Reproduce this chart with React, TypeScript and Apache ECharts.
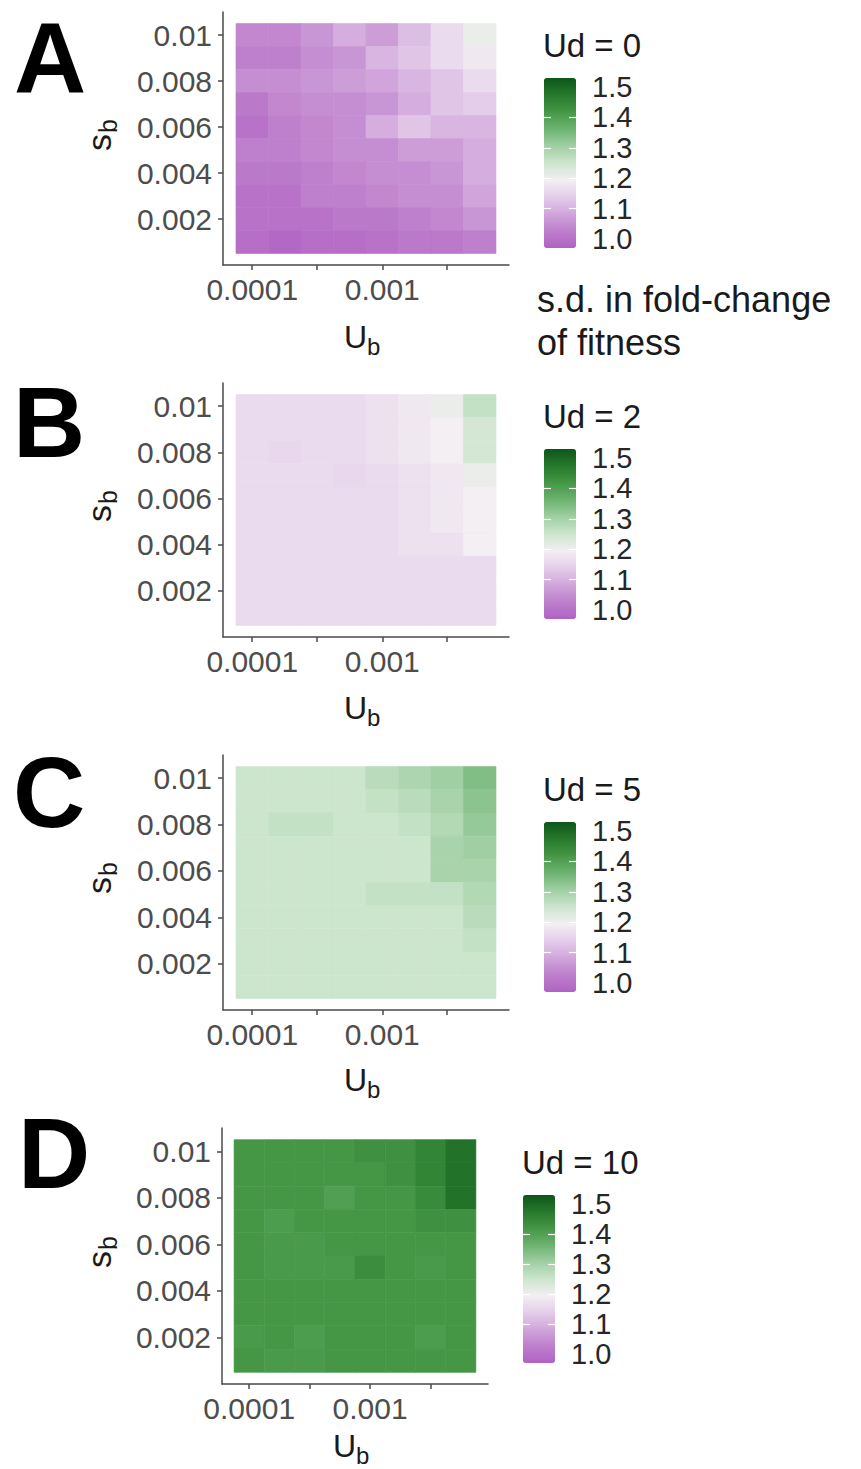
import React, { useEffect, useRef } from 'react';
import * as echarts from 'echarts';

// ---------- data ----------
const ubValues = [0.0001, 0.000178, 0.000316, 0.000562, 0.001, 0.00178, 0.00316, 0.00562];
// rows listed from top (sb = 0.010) to bottom (sb = 0.001)
const sbValues = [0.01, 0.009, 0.008, 0.007, 0.006, 0.005, 0.004, 0.003, 0.002, 0.001];
const xTickValues = [0.0001, 0.000316, 0.001, 0.00316];
const xTickLabels = ['0.0001', '0.001'];
const yTickLabels = ['0.002', '0.004', '0.006', '0.008', '0.01'];
const legendBreaks = [1.0, 1.1, 1.2, 1.3, 1.4, 1.5];
const panelLetters = ['A', 'B', 'C', 'D'];
const udValues = [0, 2, 5, 10];

const sdUd0 = [
  [1.06, 1.06, 1.08, 1.11, 1.09, 1.13, 1.17, 1.21],
  [1.05, 1.05, 1.07, 1.08, 1.12, 1.14, 1.17, 1.19],
  [1.07, 1.07, 1.08, 1.09, 1.1, 1.12, 1.14, 1.17],
  [1.04, 1.06, 1.07, 1.07, 1.08, 1.11, 1.14, 1.15],
  [1.03, 1.05, 1.06, 1.07, 1.11, 1.14, 1.12, 1.12],
  [1.05, 1.05, 1.06, 1.07, 1.07, 1.09, 1.09, 1.11],
  [1.04, 1.04, 1.05, 1.06, 1.07, 1.07, 1.08, 1.11],
  [1.03, 1.03, 1.05, 1.05, 1.06, 1.07, 1.07, 1.1],
  [1.03, 1.03, 1.03, 1.04, 1.04, 1.05, 1.06, 1.08],
  [1.02, 1.01, 1.02, 1.02, 1.03, 1.04, 1.04, 1.05],
];
const sdUd2 = [
  [1.17, 1.17, 1.17, 1.17, 1.18, 1.19, 1.21, 1.26],
  [1.17, 1.17, 1.17, 1.17, 1.18, 1.19, 1.2, 1.24],
  [1.17, 1.165, 1.17, 1.17, 1.18, 1.19, 1.2, 1.24],
  [1.17, 1.17, 1.17, 1.165, 1.17, 1.18, 1.19, 1.21],
  [1.17, 1.17, 1.17, 1.17, 1.17, 1.18, 1.19, 1.2],
  [1.17, 1.17, 1.17, 1.17, 1.17, 1.18, 1.19, 1.2],
  [1.17, 1.17, 1.17, 1.17, 1.17, 1.18, 1.18, 1.2],
  [1.17, 1.17, 1.17, 1.17, 1.17, 1.17, 1.17, 1.17],
  [1.17, 1.17, 1.17, 1.17, 1.17, 1.17, 1.17, 1.17],
  [1.17, 1.17, 1.17, 1.17, 1.17, 1.17, 1.17, 1.17],
];
const sdUd5 = [
  [1.25, 1.25, 1.25, 1.25, 1.27, 1.285, 1.3, 1.33],
  [1.25, 1.25, 1.25, 1.25, 1.26, 1.27, 1.29, 1.32],
  [1.25, 1.26, 1.26, 1.25, 1.25, 1.26, 1.28, 1.31],
  [1.25, 1.25, 1.25, 1.25, 1.25, 1.25, 1.29, 1.3],
  [1.25, 1.25, 1.25, 1.25, 1.25, 1.25, 1.29, 1.29],
  [1.25, 1.25, 1.25, 1.25, 1.26, 1.26, 1.26, 1.28],
  [1.25, 1.25, 1.25, 1.25, 1.25, 1.25, 1.25, 1.27],
  [1.25, 1.25, 1.25, 1.25, 1.25, 1.25, 1.25, 1.26],
  [1.25, 1.25, 1.25, 1.25, 1.25, 1.25, 1.25, 1.25],
  [1.25, 1.25, 1.25, 1.25, 1.25, 1.25, 1.25, 1.25],
];
const sdUd10 = [
  [1.4, 1.4, 1.4, 1.4, 1.41, 1.41, 1.43, 1.46],
  [1.4, 1.4, 1.4, 1.4, 1.4, 1.41, 1.43, 1.46],
  [1.4, 1.4, 1.4, 1.385, 1.4, 1.4, 1.42, 1.46],
  [1.4, 1.39, 1.4, 1.4, 1.4, 1.4, 1.41, 1.41],
  [1.4, 1.395, 1.395, 1.4, 1.4, 1.4, 1.4, 1.4],
  [1.4, 1.395, 1.395, 1.395, 1.415, 1.4, 1.395, 1.4],
  [1.4, 1.4, 1.4, 1.4, 1.4, 1.4, 1.4, 1.4],
  [1.4, 1.4, 1.4, 1.4, 1.4, 1.4, 1.4, 1.4],
  [1.395, 1.4, 1.39, 1.4, 1.4, 1.4, 1.39, 1.4],
  [1.4, 1.395, 1.395, 1.4, 1.4, 1.4, 1.4, 1.4],
];
const panelData = [sdUd0, sdUd2, sdUd5, sdUd10];

// colour ramp, evenly spaced from 1.0 to 1.5
const legendColors = [
  '#b062c3', '#be7fcc', '#d1a5db', '#e4cdea', '#f3eff3',
  '#cce5cd', '#a0cfa3', '#6db371', '#459746', '#27792c', '#0d561b',
];

// ---------- layout ----------
const FONT = '"Liberation Sans", Arial, Helvetica, sans-serif';
const layouts = [
  { left: 223, width: 286, top: 12, height: 253, legLeft: 544, barTop: 78, barH: 170, letterX: 14, letterMid: 58, ubX: 344, ubBase: 348, sbX: 103, sbY: 136 },
  { left: 223, width: 286, top: 383, height: 254, legLeft: 544, barTop: 449, barH: 170, letterX: 13, letterMid: 422, ubX: 344, ubBase: 719, sbX: 103, sbY: 507 },
  { left: 223, width: 286, top: 755, height: 255, legLeft: 544, barTop: 822, barH: 170, letterX: 13, letterMid: 792, ubX: 344, ubBase: 1091, sbX: 103, sbY: 879 },
  { left: 222, width: 266, top: 1128, height: 256, legLeft: 523, barTop: 1195, barH: 168, letterX: 18, letterMid: 1153, ubX: 333, ubBase: 1457, sbX: 103, sbY: 1253 },
];

const X_MIN = -4.225;
const X_MAX = -2.025;
const halfX = (Math.log10(ubValues[1]) - Math.log10(ubValues[0])) / 2;
const halfY = (sbValues[0] - sbValues[1]) / 2;

function midY(base: number, size: number) {
  return base - 0.3465 * size;
}

function buildOption() {
  const grid: any[] = [];
  const xAxis: any[] = [];
  const yAxis: any[] = [];
  const series: any[] = [];
  const visualMap: any[] = [];
  const graphic: any[] = [];

  const axisColor = '#4a4a4a';

  layouts.forEach((L, i) => {
    grid.push({ left: L.left, top: L.top, width: L.width, height: L.height });
    xAxis.push({
      type: 'value', gridIndex: i, min: X_MIN, max: X_MAX,
      axisLine: { show: true, lineStyle: { color: axisColor, width: 1.5 } },
      axisTick: { show: true, length: 5, lineStyle: { color: axisColor, width: 1.5 }, customValues: xTickValues.map((v) => Math.log10(v)) },
      axisLabel: {
        show: true, customValues: xTickLabels.map((l) => Math.log10(Number(l))), margin: 9,
        fontSize: 30, fontFamily: FONT, color: '#4d4d4d',
        formatter: (v: number) => xTickLabels.find((l) => Math.abs(Math.log10(Number(l)) - v) < 1e-6) || '',
      },
      splitLine: { show: false },
    });
    yAxis.push({
      type: 'value', gridIndex: i, min: 0, max: 0.011,
      axisLine: { show: true, lineStyle: { color: axisColor, width: 1.5 } },
      axisTick: { show: true, length: 5, lineStyle: { color: axisColor, width: 1.5 }, customValues: yTickLabels.map(Number) },
      axisLabel: {
        show: true, customValues: yTickLabels.map(Number), margin: 11,
        fontSize: 30, fontFamily: FONT, color: '#4d4d4d',
        formatter: (v: number) => yTickLabels.find((l) => Math.abs(Number(l) - v) < 1e-9) || '',
      },
      splitLine: { show: false },
    });

    const data: number[][] = [];
    panelData[i].forEach((row, r) => {
      row.forEach((v, c) => {
        data.push([Math.log10(ubValues[c]), sbValues[r], v]);
      });
    });
    series.push({
      type: 'custom', xAxisIndex: i, yAxisIndex: i, data,
      encode: { x: 0, y: 1 },
      renderItem: (_p: any, api: any) => {
        const lx = api.value(0);
        const sb = api.value(1);
        const a = api.coord([lx - halfX, sb + halfY]);
        const b = api.coord([lx + halfX, sb - halfY]);
        const col = api.visual('color');
        return {
          type: 'rect',
          shape: { x: a[0], y: a[1], width: b[0] - a[0], height: b[1] - a[1] },
          style: { fill: col, stroke: col, lineWidth: 0.6 },
        };
      },
    });

    visualMap.push({
      type: 'continuous', seriesIndex: i, dimension: 2, min: 1.0, max: 1.5,
      calculable: false, hoverLink: false, orient: 'vertical', padding: 0,
      left: L.legLeft, top: L.barTop, itemWidth: 32, itemHeight: L.barH,
      inRange: { color: legendColors },
    });
  });

  // legend label axes
  layouts.forEach((L, i) => {
    const g = 4 + i;
    grid.push({ left: L.legLeft, top: L.barTop + 9, width: 32, height: L.barH - 18 });
    xAxis.push({ type: 'value', gridIndex: g, min: 0, max: 1, show: false });
    const inner = legendBreaks.slice(1, -1);
    yAxis.push({
      type: 'value', gridIndex: g, min: 1.0, max: 1.5, position: 'left', z: 10,
      axisLine: { show: false }, splitLine: { show: false },
      axisTick: { show: true, inside: true, length: 7, lineStyle: { color: '#ffffff', width: 1.2 }, customValues: inner },
      axisLabel: { show: false },
    });
    yAxis.push({
      type: 'value', gridIndex: g, min: 1.0, max: 1.5, position: 'right', z: 10,
      axisLine: { show: false }, splitLine: { show: false },
      axisTick: { show: true, inside: true, length: 7, lineStyle: { color: '#ffffff', width: 1.2 }, customValues: inner },
      axisLabel: {
        show: true, customValues: legendBreaks, margin: 16, fontSize: 29, fontFamily: FONT, color: '#262626',
        formatter: (v: number) => v.toFixed(1),
      },
    });
  });

  // texts
  const txt = (text: string, x: number, base: number, size: number, opt: any = {}) => ({
    type: 'text',
    style: {
      text, x, y: midY(base, size), fontSize: size, fontFamily: FONT, fill: opt.fill || '#111',
      fontWeight: 'normal', align: 'left', verticalAlign: 'middle',
    },
  });

  layouts.forEach((L, i) => {
    graphic.push({
      type: 'text',
      style: {
        text: panelLetters[i], x: L.letterX, y: L.letterMid, fontSize: 100, lineHeight: 80,
        fontFamily: FONT, fontWeight: 'bold', fill: '#000', align: 'left', verticalAlign: 'middle',
      },
    });
    graphic.push(txt('Ud = ' + udValues[i], L.legLeft - 1, L.barTop - 21, 33, { fill: '#1a1a1a' }));
    // x title U_b
    graphic.push(txt('U', L.ubX, L.ubBase, 32, { fill: '#1a1a1a' }));
    graphic.push(txt('b', L.ubX + 23, L.ubBase + 7, 24, { fill: '#1a1a1a' }));
    // y title s_b (rotated)
    graphic.push({
      type: 'group', x: L.sbX, y: L.sbY, rotation: Math.PI / 2,
      children: [
        { type: 'text', style: { text: 's', x: -15, y: midY(8, 34), fontSize: 34, fontFamily: FONT, fill: '#1a1a1a', verticalAlign: 'middle' } },
        { type: 'text', style: { text: 'b', x: 3, y: midY(14, 25), fontSize: 25, fontFamily: FONT, fill: '#1a1a1a', verticalAlign: 'middle' } },
      ],
    });
  });

  graphic.push(txt('s.d. in fold-change', 537, 312, 36, { fill: '#1a1a1a' }));
  graphic.push(txt('of fitness', 537, 355, 36, { fill: '#1a1a1a' }));

  return {
    animation: false,
    backgroundColor: '#ffffff',
    grid, xAxis, yAxis, series, visualMap, graphic,
  };
}

export default function App() {
  const ref = useRef<HTMLDivElement>(null);
  useEffect(() => {
    if (!ref.current) return;
    const chart = echarts.init(ref.current, undefined, { renderer: 'svg' });
    chart.setOption(buildOption() as any);
    return () => chart.dispose();
  }, []);
  return (
    <div
      ref={ref}
      style={{ position: 'absolute', left: 0, top: 0, width: 861, height: 1469, background: '#fff' }}
    />
  );
}
